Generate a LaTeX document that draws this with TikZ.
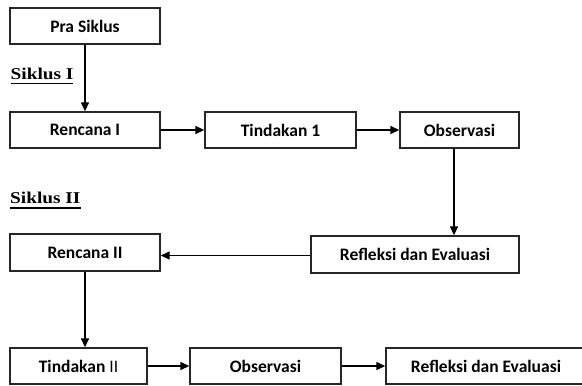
\documentclass[tikz,border=0pt]{standalone}
\usepackage{fontspec}
\usepackage{graphicx}
\setmainfont{Carlito}
\newfontfamily\sikfont{Liberation Serif}
\usetikzlibrary{arrows.meta,calc}
\newcommand\sikul[1]{\setbox0\hbox{#1}\rlap{\raisebox{-5pt}{\rule{\wd0}{1.5pt}}}\box0}
\tikzset{
  box/.style={draw=black!85, line width=1.4pt, inner sep=0pt, font=\fontsize{17.5}{20}\selectfont\bfseries},
  arr/.style={-{Triangle[length=9pt,width=8pt]}, line width=1.4pt},
  sik/.style={anchor=base west, inner sep=0pt, font=\sikfont\bfseries\fontsize{16.5}{18}\selectfont}
}
\newcommand\bx[6]{\node[box, minimum width=#4-#2, minimum height=#5-#3] (#1) at ({(#2+#4)/2},{(#3+#5)/2}) {#6};}
\begin{document}
\begin{tikzpicture}[x=1pt,y=-1pt]
\useasboundingbox (0,0) rectangle (582,386);
\bx{pra}{10}{8}{160}{44}{Pra Siklus}
\bx{ra}{10}{112}{160}{148}{Rencana I}
\bx{ta}{205}{112}{356}{148}{Tindakan 1}
\bx{oa}{400}{112}{519}{148}{Observasi}
\bx{fa}{311}{236}{519}{273}{Refleksi dan Evaluasi}
\bx{rb}{10}{234}{160}{271}{Rencana II}
\bx{tb}{10}{348}{147}{384}{Tindakan {\mdseries II}}
\bx{ob}{190}{348}{341}{384}{Observasi}
\bx{fb}{386}{348}{586}{384}{Refleksi dan Evaluasi}
\node[sik] (s1) at (10.5,79) {\scalebox{1.17}[1]{\sikul{Siklus I}}};
\node[sik] (s2) at (10,203.5) {\scalebox{1.17}[1]{\sikul{Siklus II}}};
\draw[arr] (pra.south) -- (pra.south |- ra.north);
\draw[arr] (ra.east) -- (ta.west);
\draw[arr] (ta.east) -- (oa.west);
\draw[arr] ([xshift=-5.5pt]oa.south) -- ([xshift=-5.5pt]oa.south |- fa.north);
\draw[arr] ([yshift=-1pt]fa.west) -- ([yshift=-1pt]fa.west -| rb.east);
\draw[arr] (rb.south) -- (rb.south |- tb.north);
\draw[arr] (tb.east) -- (ob.west);
\draw[arr] (ob.east) -- (fb.west);
\end{tikzpicture}
\end{document}
